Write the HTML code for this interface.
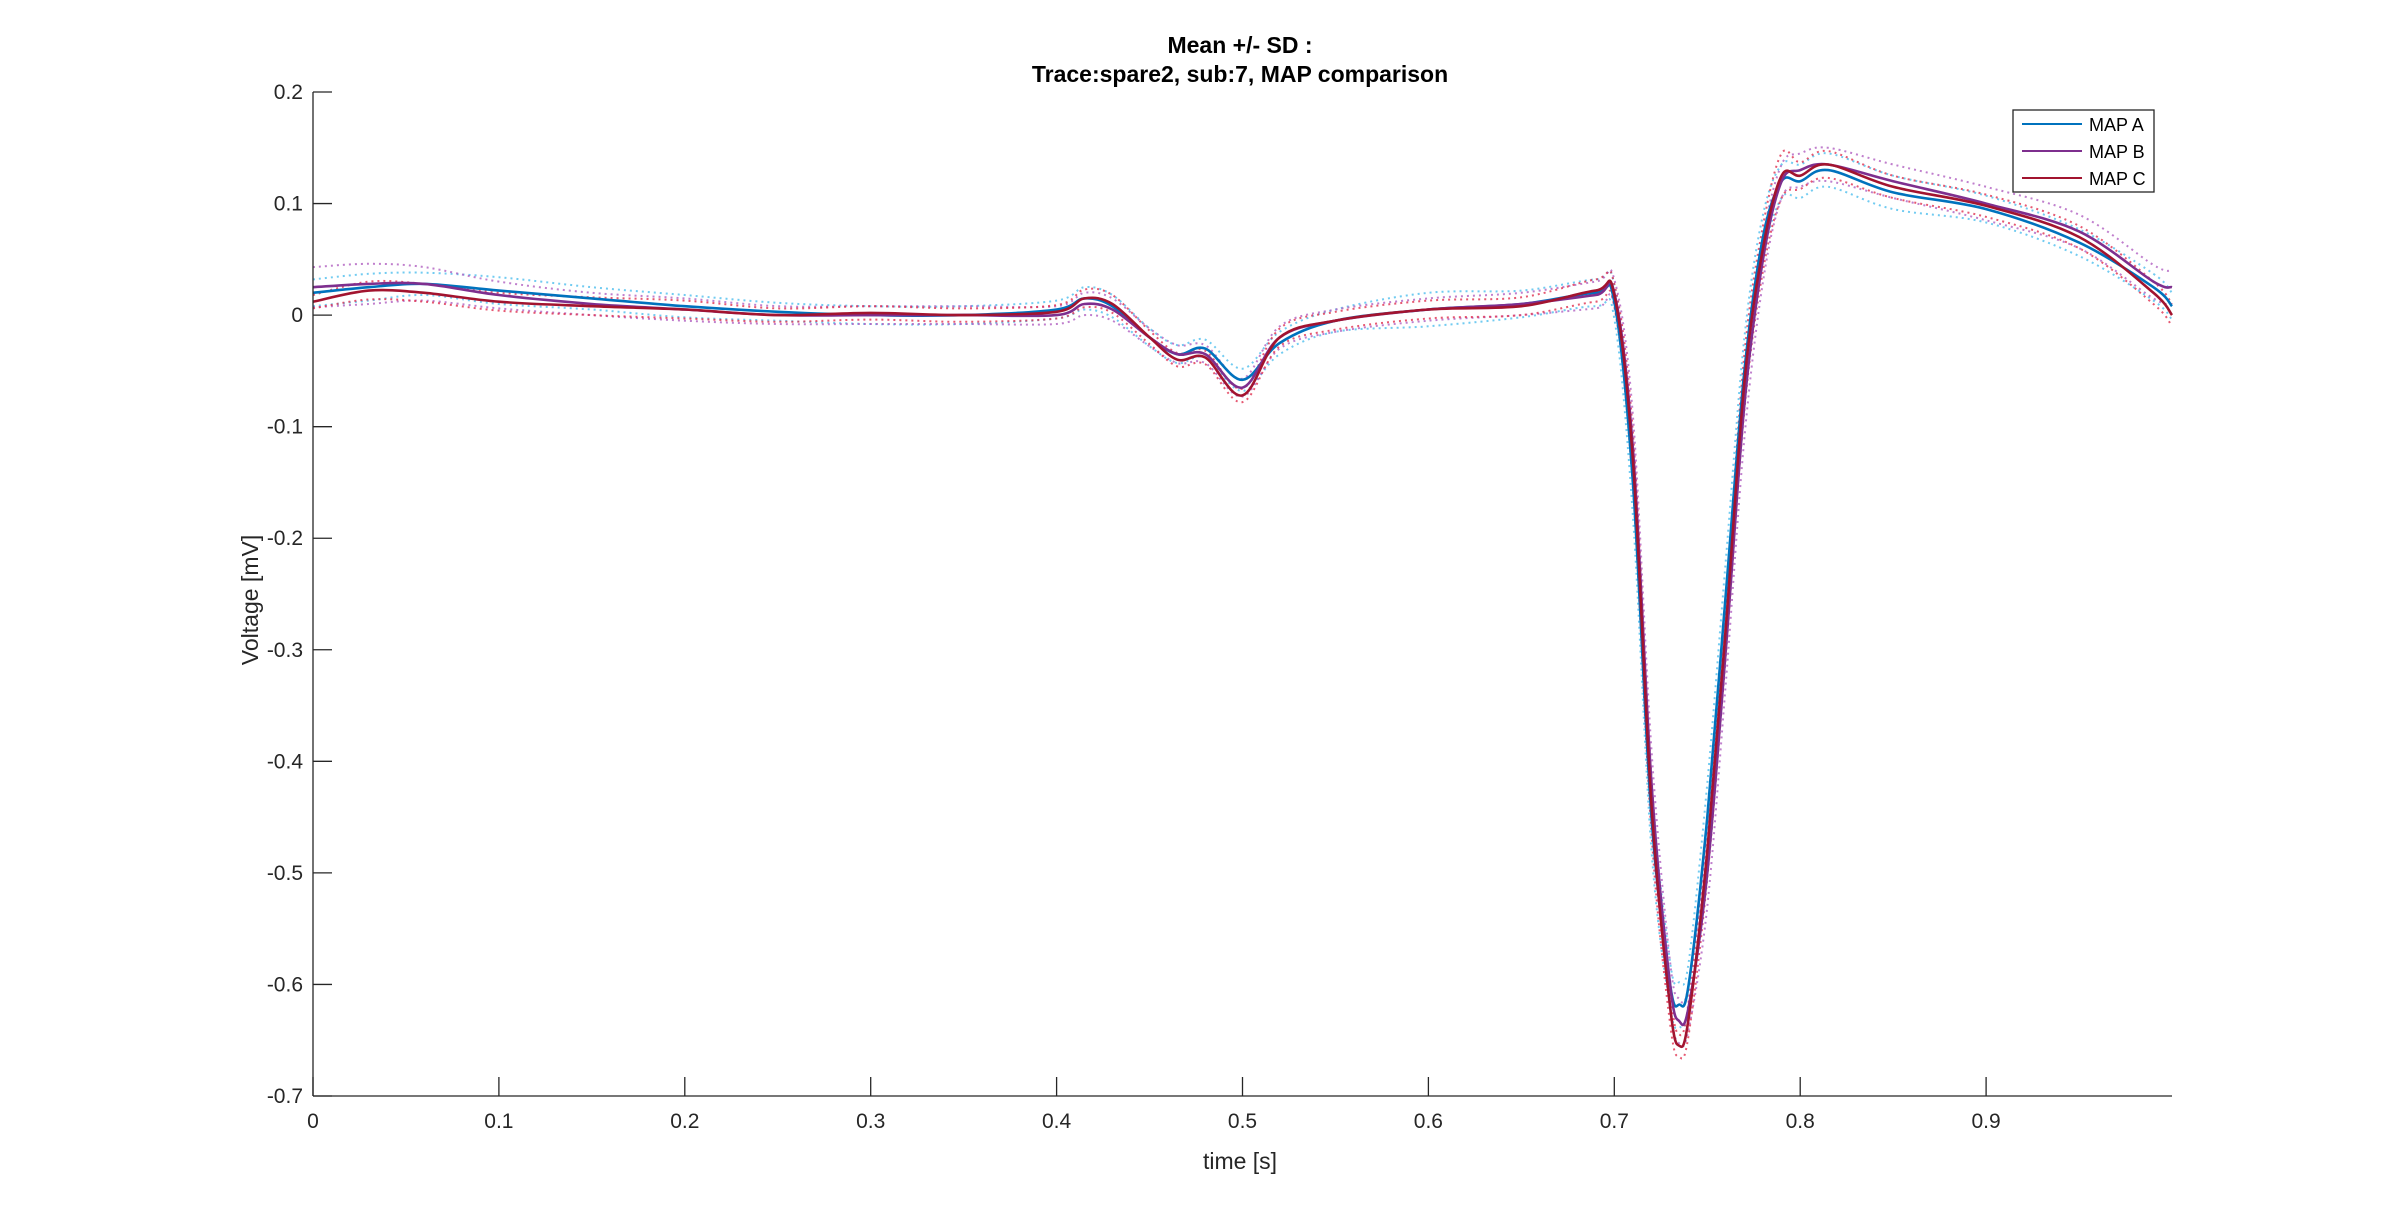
<!DOCTYPE html>
<html><head><meta charset="utf-8"><style>
html,body{margin:0;padding:0;background:#fff;}
svg{display:block;font-family:"Liberation Sans",Arial,sans-serif;}
</style></head><body>
<svg id="chart" width="2400" height="1232" viewBox="0 0 2400 1232">
<rect x="0" y="0" width="2400" height="1232" fill="#fff"/>
<text x="1240" y="53" text-anchor="middle" font-size="23" font-weight="bold" fill="#000">Mean +/- SD :</text>
<text x="1240" y="82" text-anchor="middle" font-size="23" font-weight="bold" fill="#000">Trace:spare2, sub:7, MAP comparison</text>
<g id="series"></g>
<g id="axes"></g>
<text x="1240" y="1169" text-anchor="middle" font-size="23" fill="#262626">time [s]</text>
<text transform="translate(258,600) rotate(-90)" text-anchor="middle" font-size="23" fill="#262626">Voltage [mV]</text>
<g>
<rect x="2013" y="110" width="141" height="82" fill="#fff" stroke="#262626" stroke-width="1.3"/>
<line x1="2022" y1="124" x2="2082" y2="124" stroke="#0072BD" stroke-width="2"/>
<text x="2089" y="131" font-size="18" fill="#000">MAP A</text>
<line x1="2022" y1="151" x2="2082" y2="151" stroke="#7E2F8E" stroke-width="2"/>
<text x="2089" y="158" font-size="18" fill="#000">MAP B</text>
<line x1="2022" y1="178" x2="2082" y2="178" stroke="#A2142F" stroke-width="2"/>
<text x="2089" y="185" font-size="18" fill="#000">MAP C</text>
</g>
</svg>
<script>
const times = [0,0.03,0.06,0.1,0.15,0.2,0.25,0.3,0.35,0.4,0.415,0.43,0.45,0.465,0.48,0.5,0.52,0.55,0.6,0.65,0.69,0.7,0.71,0.72,0.73,0.735,0.74,0.75,0.76,0.77,0.78,0.79,0.8,0.815,0.85,0.9,0.95,0.99,1.0];
const meanA = [0.02,0.025,0.028,0.022,0.015,0.008,0.003,0.0,0.0,0.005,0.015,0.008,-0.02,-0.035,-0.03,-0.058,-0.025,-0.005,0.005,0.01,0.02,0.012,-0.15,-0.45,-0.6,-0.618,-0.6,-0.45,-0.25,-0.05,0.07,0.12,0.12,0.13,0.11,0.095,0.065,0.025,0.008];
const meanB = [0.025,0.028,0.028,0.018,0.01,0.005,0.0,0.0,0.0,0.0,0.01,0.005,-0.02,-0.035,-0.035,-0.065,-0.02,-0.005,0.005,0.01,0.018,0.02,-0.12,-0.42,-0.6,-0.633,-0.62,-0.5,-0.3,-0.08,0.05,0.12,0.13,0.135,0.12,0.1,0.075,0.03,0.025];
const meanC = [0.012,0.022,0.02,0.012,0.008,0.005,0.0,0.002,0.0,0.003,0.015,0.01,-0.02,-0.04,-0.038,-0.072,-0.02,-0.005,0.005,0.008,0.022,0.018,-0.13,-0.44,-0.62,-0.655,-0.63,-0.48,-0.28,-0.06,0.06,0.125,0.125,0.135,0.115,0.098,0.07,0.02,0.0];
const sdA = [0.012,0.012,0.01,0.012,0.01,0.01,0.008,0.008,0.008,0.008,0.01,0.01,0.008,0.008,0.008,0.01,0.01,0.01,0.015,0.012,0.012,0.015,0.03,0.03,0.02,0.02,0.02,0.03,0.03,0.03,0.02,0.015,0.015,0.015,0.015,0.012,0.012,0.012,0.012];
const sdB = [0.018,0.018,0.015,0.012,0.01,0.01,0.008,0.008,0.008,0.008,0.01,0.01,0.008,0.008,0.008,0.008,0.01,0.01,0.01,0.01,0.012,0.012,0.03,0.03,0.02,0.02,0.02,0.03,0.03,0.03,0.02,0.015,0.015,0.015,0.015,0.015,0.015,0.015,0.015];
const sdC = [0.006,0.008,0.008,0.008,0.008,0.008,0.006,0.006,0.006,0.006,0.008,0.008,0.006,0.006,0.006,0.006,0.008,0.008,0.008,0.008,0.01,0.01,0.025,0.025,0.015,0.01,0.015,0.025,0.025,0.025,0.02,0.02,0.012,0.012,0.01,0.01,0.01,0.01,0.01];
const xTicks = [0,0.1,0.2,0.3,0.4,0.5,0.6,0.7,0.8,0.9];
const xTickLabels = ["0","0.1","0.2","0.3","0.4","0.5","0.6","0.7","0.8","0.9"];
const yTicks = [0.2,0.1,0,-0.1,-0.2,-0.3,-0.4,-0.5,-0.6,-0.7];
const yTickLabels = ["0.2","0.1","0","-0.1","-0.2","-0.3","-0.4","-0.5","-0.6","-0.7"];

const X0=313, X1=2172, Y0=92, Y1=1096;
const xS = v => X0 + (v-0)/(1-0)*(X1-X0);
const yS = v => Y0 + (0.2-v)/(0.9)*(Y1-Y0);
const NS="http://www.w3.org/2000/svg";
function mk(tag, attrs, parent){const e=document.createElementNS(NS,tag);for(const k in attrs)e.setAttribute(k,attrs[k]);parent.appendChild(e);return e;}
function pathFor(vals){
  const p=times.map((t,i)=>[xS(t),yS(vals[i])]);
  let d="M"+p[0][0].toFixed(1)+","+p[0][1].toFixed(1);
  for(let i=0;i<p.length-1;i++){
    const p0=p[Math.max(0,i-1)],p1=p[i],p2=p[i+1],p3=p[Math.min(p.length-1,i+2)];
    const c1=[p1[0]+(p2[0]-p0[0])/6,p1[1]+(p2[1]-p0[1])/6];
    const c2=[p2[0]-(p3[0]-p1[0])/6,p2[1]-(p3[1]-p1[1])/6];
    d+=" C"+c1[0].toFixed(1)+","+c1[1].toFixed(1)+" "+c2[0].toFixed(1)+","+c2[1].toFixed(1)+" "+p2[0].toFixed(1)+","+p2[1].toFixed(1);
  }
  return d;
}
const g=document.getElementById('series');
const series=[["a",meanA,sdA,"#0072BD","#4DBEEE"],["b",meanB,sdB,"#7E2F8E","#B05FC0"],["c",meanC,sdC,"#A2142F","#E0304F"]];
series.forEach(([n,m,s,col,light])=>{
  const up=m.map((v,i)=>v+s[i]), lo=m.map((v,i)=>v-s[i]);
  const e1=mk('path',{d:pathFor(up),fill:"none",stroke:light,"stroke-width":2,"stroke-dasharray":"2 4",opacity:0.8},g);
  
  
  const e2=mk('path',{d:pathFor(lo),fill:"none",stroke:light,"stroke-width":2,"stroke-dasharray":"2 4",opacity:0.8},g);
  
  
});
series.forEach(([n,m,s,col])=>{
  const e=mk('path',{d:pathFor(m),fill:"none",stroke:col,"stroke-width":2.6},g);
  
  
});
const ax=document.getElementById('axes');
const xl=mk('line',{x1:X0,y1:Y1,x2:X1,y2:Y1,stroke:"#262626","stroke-width":1.3},ax);


const yl=mk('line',{x1:X0,y1:Y0,x2:X0,y2:Y1,stroke:"#262626","stroke-width":1.3},ax);


xTicks.forEach((v,i)=>{
  const x=xS(v);
  const t=mk('line',{x1:x,y1:Y1,x2:x,y2:Y1-19,stroke:"#262626","stroke-width":1.3},ax);
  
  
  const l=mk('text',{x:x,y:Y1+32,"text-anchor":"middle","font-size":21,fill:"#262626"},ax);
  l.textContent=xTickLabels[i];
  
  
});
yTicks.forEach((v,i)=>{
  const y=yS(v);
  const t=mk('line',{x1:X0,y1:y,x2:X0+19,y2:y,stroke:"#262626","stroke-width":1.3},ax);
  
  
  const l=mk('text',{x:X0-10,y:y+7,"text-anchor":"end","font-size":21,fill:"#262626"},ax);
  l.textContent=yTickLabels[i];
  
  
});
</script>
</body></html>
